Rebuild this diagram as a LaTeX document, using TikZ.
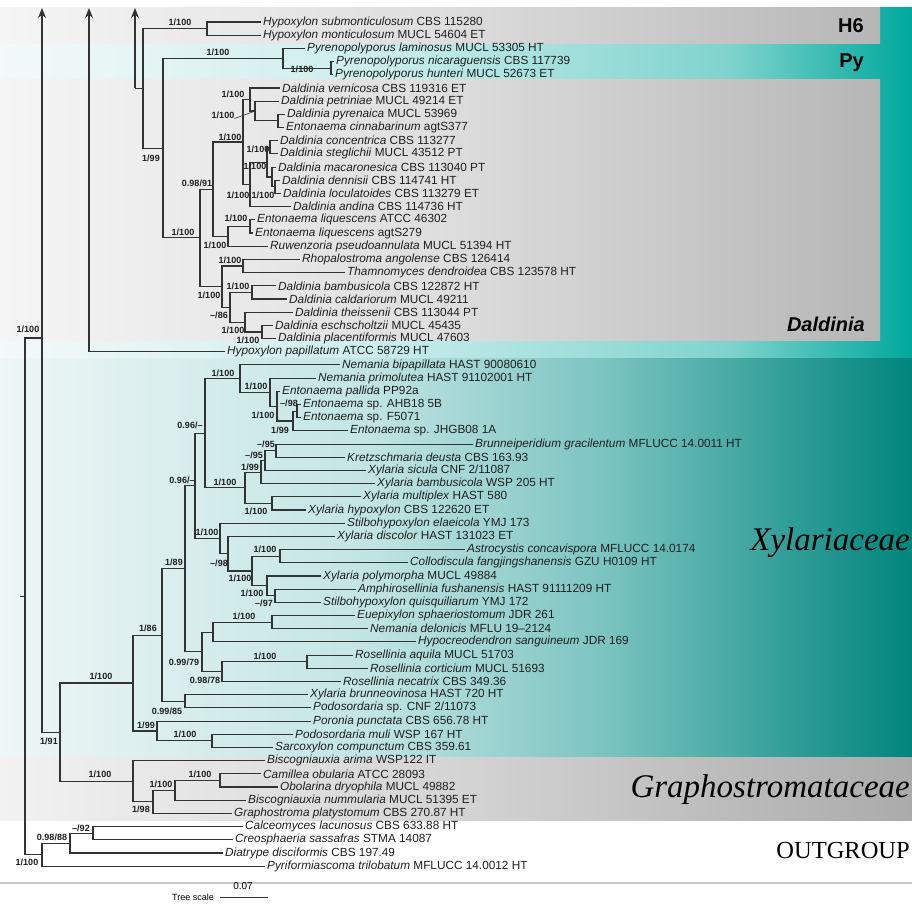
\documentclass[tikz,border=0pt]{standalone}
\usepackage{fontspec}
\setmainfont{Liberation Sans}
\newfontfamily\timesf{Liberation Serif}
\usetikzlibrary{arrows.meta}
\definecolor{hA}{HTML}{F4F9F9}
\definecolor{hB}{HTML}{CDEEED}
\definecolor{hC}{HTML}{7FD3CD}
\definecolor{hD}{HTML}{00A89C}
\definecolor{gA}{HTML}{F5F5F5}
\definecolor{gB}{HTML}{DEDEDE}
\definecolor{gC}{HTML}{B6B6B6}
\definecolor{xA}{HTML}{EEF6F6}
\definecolor{xB}{HTML}{C2E5E4}
\definecolor{xC}{HTML}{7CC4C1}
\definecolor{xD}{HTML}{00857D}
\definecolor{rA}{HTML}{F2F2F2}
\definecolor{rB}{HTML}{D4D4D4}
\definecolor{rC}{HTML}{ABABAB}
\pgfdeclarehorizontalshading{hyposh}{100bp}{color(0bp)=(hA); color(25bp)=(hA); color(45bp)=(hB); color(65bp)=(hC); color(75bp)=(hD); color(100bp)=(hD)}
\pgfdeclarehorizontalshading{graysh}{100bp}{color(0bp)=(gA); color(25bp)=(gA); color(50bp)=(gB); color(75bp)=(gC); color(100bp)=(gC)}
\pgfdeclarehorizontalshading{xylsh}{100bp}{color(0bp)=(xA); color(25bp)=(xA); color(45bp)=(xB); color(58bp)=(xC); color(75bp)=(xD); color(100bp)=(xD)}
\pgfdeclarehorizontalshading{grpsh}{100bp}{color(0bp)=(rA); color(25bp)=(rA); color(50bp)=(rB); color(75bp)=(rC); color(100bp)=(rC)}
\newcommand\RY[1]{8.81+13.19*(#1)}
\newcommand\tipn[5]{\node[tip] (#1) at ({#2-2.5},{\RY{#3}}) {\textit{#4} #5};}
\newcommand\inn[3]{\coordinate (#1) at (#2,{\RY{#3}});}
\newcommand\brn[3]{\draw[br] (#1) |- (#2) (#1) |- (#3);}
\newcommand\supl[4]{\node[sup] (#1) at (#2,#3) {#4};}
\begin{document}
\begin{tikzpicture}[x=1pt,y=-1pt,
 tip/.style={anchor=west,inner xsep=2.5pt,inner ysep=0pt,font=\fontsize{11.8}{13}\selectfont,text=black!88},
 br/.style={line width=1.1pt,draw=black!80},
 sup/.style={font=\fontsize{9}{10}\selectfont\bfseries,inner sep=0pt,text=black!88},
 grp/.style={font=\fontsize{20}{22}\selectfont\bfseries,anchor=base east,inner sep=0pt},
 fam/.style={font=\timesf\fontsize{33}{36}\selectfont\itshape,anchor=base east,inner sep=0pt},
 arr/.style={br,{Stealth[length=10pt,width=8pt]}-}
]
\useasboundingbox (0,0) rectangle (912,903);
\fill[white] (0,0) rectangle (912,903);
\shade[shading=hyposh] (0,7) rectangle (912,358);
\shade[shading=graysh] (0,7) rectangle (880,43);
\shade[shading=graysh] (0,79) rectangle (880,340);
\shade[shading=xylsh] (0,358) rectangle (912,757);
\shade[shading=grpsh] (0,757) rectangle (912,820);
\draw[black!22,line width=1.2pt] (0,883) -- (912,883);

% group labels
\node[grp] (gH6) at (864,32) {H6};
\node[grp] (gPy) at (864,67) {Py};
\node[grp,font=\fontsize{20}{22}\selectfont\bfseries\itshape] (gDal) at (865,331) {Daldinia};
\node[fam] (gXyl) at (910,550) {Xylariaceae};
\node[fam] (gGra) at (910,797) {Graphostromataceae};
\node[fam,font=\timesf\fontsize{24.5}{26}\selectfont] (gOut) at (910,858) {OUTGROUP};

% tips
\tipn{t1}{263}{1}{Hypoxylon submonticulosum}{CBS 115280}
\tipn{t2}{263}{2}{Hypoxylon monticulosum}{MUCL 54604 ET}
\tipn{t3}{307}{3}{Pyrenopolyporus laminosus}{MUCL 53305 HT}
\tipn{t4}{336}{4}{Pyrenopolyporus nicaraguensis}{CBS 117739}
\tipn{t5}{335}{5}{Pyrenopolyporus hunteri}{MUCL 52673 ET}
\tipn{t6}{282}{6}{Daldinia vernicosa}{CBS 119316 ET}
\tipn{t7}{281}{7}{Daldinia petriniae}{MUCL 49214 ET}
\tipn{t8}{287}{8}{Daldinia pyrenaica}{MUCL 53969}
\tipn{t9}{286}{9}{Entonaema cinnabarinum}{agtS377}
\tipn{t10}{280}{10}{Daldinia concentrica}{CBS 113277}
\tipn{t11}{280}{11}{Daldinia steglichii}{MUCL 43512 PT}
\tipn{t12}{278}{12}{Daldinia macaronesica}{CBS 113040 PT}
\tipn{t13}{282}{13}{Daldinia dennisii}{CBS 114741 HT}
\tipn{t14}{283}{14}{Daldinia loculatoides}{CBS 113279 ET}
\tipn{t15}{293}{15}{Daldinia andina}{CBS 114736 HT}
\tipn{t16}{257}{16}{Entonaema liquescens}{ATCC 46302}
\tipn{t17}{255}{17}{Entonaema liquescens}{agtS279}
\tipn{t18}{270}{18}{Ruwenzoria pseudoannulata}{MUCL 51394 HT}
\tipn{t19}{302}{19}{Rhopalostroma angolense}{CBS 126414}
\tipn{t20}{347}{20}{Thamnomyces dendroidea}{CBS 123578 HT}
\tipn{t21}{278}{21}{Daldinia bambusicola}{CBS 122872 HT}
\tipn{t22}{289}{22}{Daldinia caldariorum}{MUCL 49211}
\tipn{t23}{295}{23}{Daldinia theissenii}{CBS 113044 PT}
\tipn{t24}{275}{24}{Daldinia eschscholtzii}{MUCL 45435}
\tipn{t25}{278}{25}{Daldinia placentiformis}{MUCL 47603}
\tipn{t26}{227}{26}{Hypoxylon papillatum}{ATCC 58729 HT}
\tipn{t27}{342}{27}{Nemania bipapillata}{HAST 90080610}
\tipn{t28}{318}{28}{Nemania primolutea}{HAST 91102001 HT}
\tipn{t29}{282}{29}{Entonaema pallida}{PP92a}
\tipn{t30}{303}{30}{Entonaema}{sp. AHB18 5B}
\tipn{t31}{303}{31}{Entonaema}{sp. F5071}
\tipn{t32}{350}{32}{Entonaema}{sp. JHGB08 1A}
\tipn{t33}{475}{33}{Brunneiperidium gracilentum}{MFLUCC 14.0011 HT}
\tipn{t34}{347}{34}{Kretzschmaria deusta}{CBS 163.93}
\tipn{t35}{368}{35}{Xylaria sicula}{CNF 2/11087}
\tipn{t36}{377}{36}{Xylaria bambusicola}{WSP 205 HT}
\tipn{t37}{363}{37}{Xylaria multiplex}{HAST 580}
\tipn{t38}{308}{38}{Xylaria hypoxylon}{CBS 122620 ET}
\tipn{t39}{347}{39}{Stilbohypoxylon elaeicola}{YMJ 173}
\tipn{t40}{337}{40}{Xylaria discolor}{HAST 131023 ET}
\tipn{t41}{467}{41}{Astrocystis concavispora}{MFLUCC 14.0174}
\tipn{t42}{410}{42}{Collodiscula fangjingshanensis}{GZU H0109 HT}
\tipn{t43}{323}{43}{Xylaria polymorpha}{MUCL 49884}
\tipn{t44}{358}{44}{Amphirosellinia fushanensis}{HAST 91111209 HT}
\tipn{t45}{323}{45}{Stilbohypoxylon quisquiliarum}{YMJ 172}
\tipn{t46}{357}{46}{Euepixylon sphaeriostomum}{JDR 261}
\tipn{t47}{370}{47}{Nemania delonicis}{MFLU 19–2124}
\tipn{t48}{418}{48}{Hypocreodendron sanguineum}{JDR 169}
\tipn{t49}{355}{49}{Rosellinia aquila}{MUCL 51703}
\tipn{t50}{370}{50}{Rosellinia corticium}{MUCL 51693}
\tipn{t51}{343}{51}{Rosellinia necatrix}{CBS 349.36}
\tipn{t52}{310}{52}{Xylaria brunneovinosa}{HAST 720 HT}
\tipn{t53}{313}{53}{Podosordaria}{sp. CNF 2/11073}
\tipn{t54}{313}{54}{Poronia punctata}{CBS 656.78 HT}
\tipn{t55}{295}{55}{Podosordaria muli}{WSP 167 HT}
\tipn{t56}{275}{56}{Sarcoxylon compunctum}{CBS 359.61}
\tipn{t57}{267}{57}{Biscogniauxia arima}{WSP122 IT}
\tipn{t58}{263}{58}{Camillea obularia}{ATCC 28093}
\tipn{t59}{280}{59}{Obolarina dryophila}{MUCL 49882}
\tipn{t60}{248}{60}{Biscogniauxia nummularia}{MUCL 51395 ET}
\tipn{t61}{234}{61}{Graphostroma platystomum}{CBS 270.87 HT}
\tipn{t62}{245}{62}{Calceomyces lacunosus}{CBS 633.88 HT}
\tipn{t63}{235}{63}{Creosphaeria sassafras}{STMA 14087}
\tipn{t64}{225}{64}{Diatrype disciformis}{CBS 197.49}
\tipn{t65}{267}{65}{Pyriformiascoma trilobatum}{MFLUCC 14.0012 HT}

% internal nodes: Hypoxylaceae
\inn{h6}{207}{1.5}
\inn{pys}{331}{4.5}
\inn{py}{283}{3.75}
\inn{dpy}{278}{8.5}
\inn{dp}{255}{7.75}
\inn{dv}{250}{6.875}
\inn{dca}{270}{10.5}
\inn{dcc}{275}{13.5}
\inn{dcb}{272}{12.75}
\inn{dc1}{267}{11.625}
\inn{dc}{250}{13.3125}
\inn{da}{243}{10.094}
\inn{elq}{250}{16.5}
\inn{de}{228}{17.25}
\inn{d2}{213}{13.672}
\inn{dr}{243}{19.5}
\inn{dbb}{252}{21.5}
\inn{d6}{262}{24.5}
\inn{d5}{245}{23.75}
\inn{d4}{230}{22.625}
\inn{d3}{222}{21.0625}
\inn{d1}{200}{17.367}
\inn{d0}{163}{10.559}
\inn{a}{143}{6.029}
\inn{c135}{135}{6.029}
\coordinate (top135) at (135,8);
\coordinate (top89) at (89,8);
\coordinate (top42) at (42,8);

\brn{h6}{t1.west}{t2.west}
\brn{pys}{t4.west}{t5.west}
\brn{py}{t3.west}{pys}
\brn{dpy}{t8.west}{t9.west}
\brn{dp}{t7.west}{dpy}
\brn{dv}{t6.west}{dp}
\brn{dca}{t10.west}{t11.west}
\brn{dcc}{t13.west}{t14.west}
\brn{dcb}{t12.west}{dcc}
\brn{dc1}{dca}{dcb}
\brn{dc}{dc1}{t15.west}
\brn{da}{dv}{dc}
\brn{elq}{t16.west}{t17.west}
\brn{de}{elq}{t18.west}
\brn{d2}{da}{de}
\brn{dr}{t19.west}{t20.west}
\brn{dbb}{t21.west}{t22.west}
\brn{d6}{t24.west}{t25.west}
\brn{d5}{t23.west}{d6}
\brn{d4}{dbb}{d5}
\brn{d3}{dr}{d4}
\brn{d1}{d2}{d3}
\brn{d0}{py}{d1}
\brn{a}{h6}{d0}
\draw[br] (c135) -- (a);
\draw[arr] (top135) -- (c135);
\draw[arr] (top89) |- (t26.west);

% Xylariaceae
\inn{x9}{297}{30.5}
\inn{x8}{293}{31.25}
\inn{x7}{277}{30.125}
\inn{x6}{270}{29.0625}
\inn{x5}{240}{28.03}
\inn{x13}{276}{33.5}
\inn{x12}{265}{34.25}
\inn{x11}{261}{35.125}
\inn{xp}{272}{37.5}
\inn{x10}{245}{36.3125}
\inn{x4}{205}{32.17}
\inn{x17}{280}{41.5}
\inn{x19}{275}{44.5}
\inn{x18}{267}{43.75}
\inn{x16}{252}{42.625}
\inn{x15}{228}{41.3125}
\inn{x14}{220}{40.156}
\inn{x3}{195}{36.164}
\inn{x22}{272}{46.5}
\inn{x21}{213}{47.25}
\inn{x24}{307}{49.5}
\inn{x23}{222}{50.25}
\inn{x20}{202}{48.75}
\inn{x2}{185}{42.457}
\inn{x1b}{185}{52.5}
\inn{x1}{162}{47.479}
\inn{x26}{212}{55.5}
\inn{x25}{157}{54.75}
\inn{x0}{133}{51.114}
\inn{g3}{220}{58.5}
\inn{g2}{175}{59.25}
\inn{g1}{153}{60.125}
\inn{g0}{133}{58.5625}
\inn{n60}{60}{54.838}
\inn{o3}{93}{62.5}
\inn{o2}{70}{63.25}
\inn{o1}{42}{64.125}
\coordinate (n42) at (42,338);
\coordinate (rt) at (25,338);
\inn{rs}{20}{44.54}
\inn{rsr}{25}{44.54}

\brn{x9}{t30.west}{t31.west}
\brn{x8}{x9}{t32.west}
\brn{x7}{t29.west}{x8}
\brn{x6}{t28.west}{x7}
\brn{x5}{t27.west}{x6}
\brn{x13}{t33.west}{t34.west}
\brn{x12}{x13}{t35.west}
\brn{x11}{x12}{t36.west}
\brn{xp}{t37.west}{t38.west}
\brn{x10}{x11}{xp}
\brn{x4}{x5}{x10}
\brn{x17}{t41.west}{t42.west}
\brn{x19}{t44.west}{t45.west}
\brn{x18}{t43.west}{x19}
\brn{x16}{x17}{x18}
\brn{x15}{t40.west}{x16}
\brn{x14}{t39.west}{x15}
\brn{x3}{x4}{x14}
\brn{x22}{t46.west}{t47.west}
\brn{x21}{x22}{t48.west}
\brn{x24}{t49.west}{t50.west}
\brn{x23}{x24}{t51.west}
\brn{x20}{x21}{x23}
\brn{x2}{x3}{x20}
\brn{x1b}{t52.west}{t53.west}
\brn{x1}{x2}{x1b}
\brn{x26}{t55.west}{t56.west}
\brn{x25}{t54.west}{x26}
\brn{x0}{x1}{x25}
\brn{g3}{t58.west}{t59.west}
\brn{g2}{g3}{t60.west}
\brn{g1}{g2}{t61.west}
\brn{g0}{t57.west}{g1}
\brn{n60}{x0}{g0}
\brn{o3}{t62.west}{t63.west}
\brn{o2}{o3}{t64.west}
\brn{o1}{o2}{t65.west}
\draw[arr] (top42) |- (n60);
\draw[br] (n42) -- (rt) |- (o1);
\draw[br] (rs) -- (rsr);

% support values
\supl{s1}{180}{22}{1/100}
\supl{s2}{218}{52}{1/100}
\supl{s3}{302}{69}{1/100}
\supl{s4}{151}{158}{1/99}
\supl{s5}{183}{232}{1/100}
\supl{s6}{197}{183}{0.98/91}
\supl{s7}{230}{137}{1/100}
\supl{s8}{233}{94}{1/100}
\supl{s9}{223}{115}{1/100}
\draw[black!80,line width=0.6pt] (s9.south east) -- (dp);
\supl{s10}{258}{149}{1/100}
\supl{s11}{255}{166}{1/100}
\supl{s12}{238}{195}{1/100}
\supl{s13}{263}{195}{1/100}
\supl{s14}{215}{245}{1/100}
\supl{s15}{236}{218}{1/100}
\supl{s16}{209}{295}{1/100}
\supl{s17}{230}{260}{1/100}
\supl{s18}{238}{286}{1/100}
\supl{s19}{219}{315}{–/86}
\supl{s20}{233}{330}{1/100}
\supl{s21}{248}{340}{1/100}
\supl{s22}{28}{329}{1/100}
\supl{s23}{223}{373}{1/100}
\supl{s24}{256}{386}{1/100}
\supl{s25}{263}{415}{1/100}
\supl{s26}{280}{430}{1/99}
\supl{s27}{289}{403}{–/98}
\supl{s28}{190}{425}{0.96/–}
\supl{s29}{182}{480}{0.96/–}
\supl{s30}{225}{482}{1/100}
\supl{s31}{256}{511}{1/100}
\supl{s32}{250}{467}{1/99}
\supl{s33}{254}{455}{–/95}
\supl{s34}{266}{444}{–/95}
\supl{s35}{207}{532}{1/100}
\supl{s36}{219}{563}{–/98}
\supl{s37}{240}{578}{1/100}
\supl{s38}{265}{549}{1/100}
\supl{s39}{252}{593}{1/100}
\supl{s40}{264}{603}{–/97}
\supl{s41}{174}{562}{1/89}
\supl{s42}{148}{628}{1/86}
\supl{s43}{184}{662}{0.99/79}
\supl{s44}{244}{616}{1/100}
\supl{s45}{205}{680}{0.98/78}
\supl{s46}{265}{656}{1/100}
\supl{s47}{167}{711}{0.99/85}
\supl{s48}{101}{676}{1/100}
\supl{s49}{146}{725}{1/99}
\supl{s50}{185}{734}{1/100}
\supl{s51}{49}{741}{1/91}
\supl{s52}{100}{774}{1/100}
\supl{s53}{141}{809}{1/98}
\supl{s54}{161}{784}{1/100}
\supl{s55}{200}{774}{1/100}
\supl{s56}{81}{828}{–/92}
\supl{s57}{52}{837}{0.98/88}
\supl{s58}{27}{862}{1/100}

% tree scale
\node[font=\fontsize{9}{10}\selectfont,anchor=east,inner sep=0pt] (tsl) at (214,897) {Tree scale};
\coordinate (sc1) at (220,897);
\coordinate (sc2) at (268,897);
\draw[black!80,line width=1pt] (sc1) -- (sc2);
\node[font=\fontsize{10}{11}\selectfont,inner sep=0pt] (tsv) at (243,886) {0.07};
\end{tikzpicture}
\end{document}
